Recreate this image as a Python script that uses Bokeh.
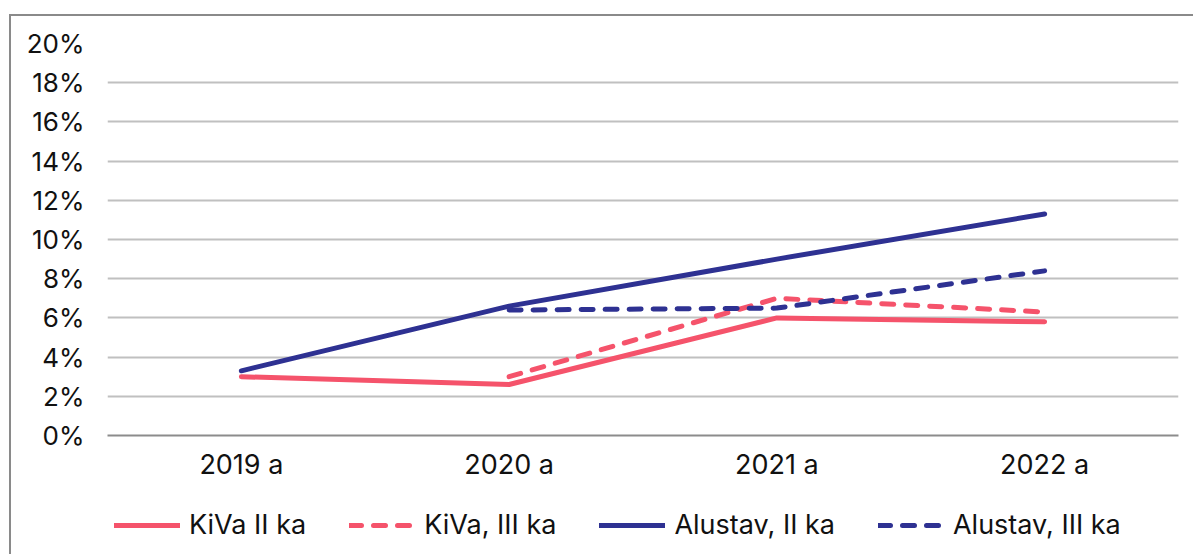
from bokeh.plotting import figure
from bokeh.layouts import column
from bokeh.models import FactorRange, Range1d, FixedTicker, PrintfTickFormatter, Legend, LegendItem
from bokeh.embed import file_html
from bokeh.resources import INLINE

# ---- data ----
years = ["2019 a", "2020 a", "2021 a", "2022 a"]
kiva_ii = [3.0, 2.6, 6.0, 5.8]
kiva_iii_years = ["2020 a", "2021 a", "2022 a"]
kiva_iii = [3.0, 7.0, 6.3]
alustav_ii = [3.3, 6.6, 9.0, 11.3]
alustav_iii_years = ["2020 a", "2021 a", "2022 a"]
alustav_iii = [6.4, 6.5, 8.4]
y_ticks = [0, 2, 4, 6, 8, 10, 12, 14, 16, 18, 20]
series_names = ["KiVa II ka", "KiVa, III ka", "Alustav, II ka", "Alustav, III ka"]

RED = "#F5536B"
BLUE = "#2E3192"
FONT = "Inter"
W = 1184

series = [
    (years, kiva_ii, dict(line_color=RED)),
    (kiva_iii_years, kiva_iii, dict(line_color=RED, line_dash="12 12")),
    (years, alustav_ii, dict(line_color=BLUE)),
    (alustav_iii_years, alustav_iii, dict(line_color=BLUE, line_dash="12 12")),
]
common = dict(line_width=5, line_cap="round", line_join="round")

p = figure(
    x_range=FactorRange(*years),
    y_range=Range1d(0, 20),
    width=W, height=469,
    min_border_left=96, min_border_right=17, min_border_top=27, min_border_bottom=50,
    output_backend="svg", toolbar_location=None,
    background_fill_color="white", border_fill_color="white",
)
p.outline_line_color = None

# axes
p.yaxis.ticker = FixedTicker(ticks=y_ticks)
p.yaxis.formatter = PrintfTickFormatter(format="%d%%")
for ax in (p.xaxis[0], p.yaxis[0]):
    ax.major_tick_line_color = None
    ax.minor_tick_line_color = None
    ax.major_tick_out = 0
    ax.major_tick_in = 0
    ax.major_label_text_font = FONT
    ax.major_label_text_color = "#111111"
p.yaxis.major_label_text_font_size = "26px"
p.xaxis.major_label_text_font_size = "27px"
p.yaxis.axis_line_color = None
p.yaxis.major_label_standoff = 23
p.xaxis.axis_line_color = "#8c8c8c"
p.xaxis.axis_line_width = 2
p.xaxis.major_label_standoff = 12
p.xgrid.grid_line_color = None
p.ygrid.grid_line_color = "#c0c0c0"
p.ygrid.grid_line_width = 2

for xs, ys, st in series:
    p.line(xs, ys, **st, **common)

# legend strip: a second, axis-less figure whose (out-of-range, hence hidden)
# copies of the series provide the legend glyphs
p2 = figure(
    width=W, height=71, x_range=FactorRange(*years), y_range=Range1d(-2, -1),
    x_axis_type=None, y_axis_type=None, min_border=0,
    output_backend="svg", toolbar_location=None,
    background_fill_color="white", border_fill_color="white",
)
p2.outline_line_color = None
p2.grid.visible = False
legend_renderers = [p2.line(xs, ys, **st, **common) for xs, ys, st in series]

legend = Legend(
    items=[LegendItem(label=n, renderers=[r]) for n, r in zip(series_names, legend_renderers)],
    orientation="horizontal", location=(7, 15),
    padding=0, margin=0, spacing=43,
    glyph_width=66, glyph_height=30, label_height=30, label_standoff=9,
    label_text_font=FONT, label_text_font_size="27px", label_text_color="#111111",
    border_line_color=None, background_fill_alpha=0,
)
p2.add_layout(legend, "center")

layout = column(p, p2, spacing=0)
layout.styles = {"transform": "translate(11px, 16px)", "box-shadow": "-2px -2px 0 0 #8a8a8a"}

open("out.html", "w").write(file_html(layout, INLINE))
